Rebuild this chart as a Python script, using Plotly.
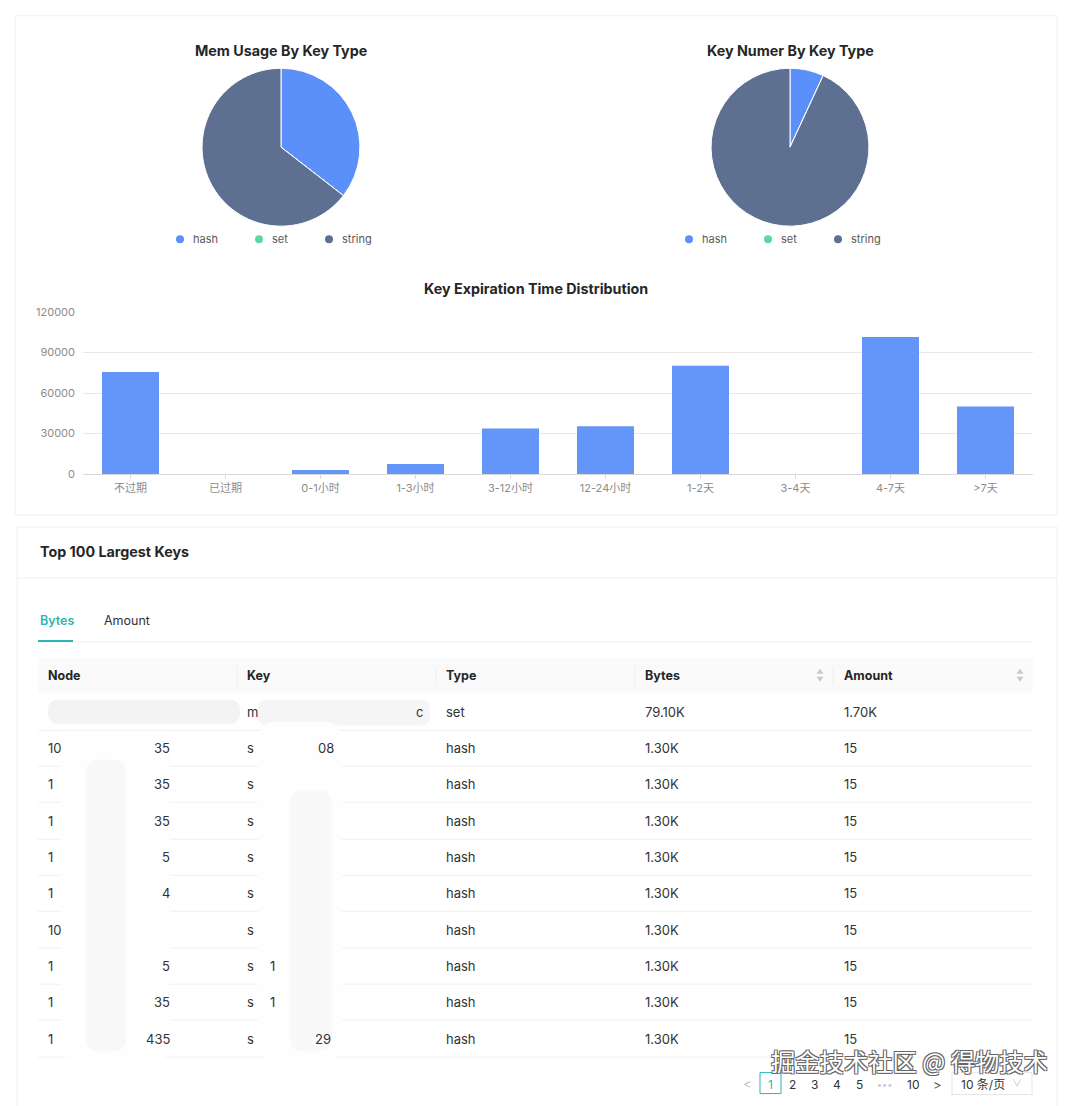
import plotly.graph_objects as go

# Figure placement calibrated against the page: x offset 8px, y offset ~14.7px with ~0.988 vertical scale.
W, H = 1064, 1106
XOFF = 8
YOFF, YS = 14.7, 0.988
FONT = "Inter, Noto Sans CJK SC, sans-serif"

# ---------------- data ----------------
key_types = ["hash", "set", "string"]
type_colors = ["#5B8FF9", "#5AD8A6", "#5D7092"]
mem_usage = [35.5, 0.0, 64.5]
key_number = [6.9, 0.0, 93.1]

exp_categories = ["不过期", "已过期", "0-1小时", "1-3小时", "3-12小时", "12-24小时", "1-2天", "3-4天", "4-7天", ">7天"]
exp_counts = [75600, 0, 3000, 7400, 33700, 35300, 80300, 0, 101600, 50100]
y_ticks = [0, 30000, 60000, 90000, 120000]

table_columns = ["Node", "Key", "Type", "Bytes", "Amount"]
node_head = ["", "10", "1", "1", "1", "1", "10", "1", "1", "1"]
node_tail = ["", "35", "35", "35", "5", "4", "", "5", "35", "435"]
key_head = ["m", "s", "s", "s", "s", "s", "s", "s", "s", "s"]
types = ["set", "hash", "hash", "hash", "hash", "hash", "hash", "hash", "hash", "hash"]
bytes_col = ["79.10K", "1.30K", "1.30K", "1.30K", "1.30K", "1.30K", "1.30K", "1.30K", "1.30K", "1.30K"]
amount_col = ["1.70K", "15", "15", "15", "15", "15", "15", "15", "15", "15"]
tabs = ["Bytes", "Amount"]
pages = ["1", "2", "3", "4", "5", "•••", "10"]


def px(x):
    return (x - XOFF) / W


def py(y):
    return 1 - ((y - YOFF) / YS) / H


fig = go.Figure()
shapes = []
ann = []


def text(x, y, s, size=13, color="#333333", bold=False, xanchor="left", yanchor="middle", weight=None):
    f = dict(family=FONT, size=size, color=color)
    if weight:
        f["weight"] = weight
    ann.append(dict(x=px(x), y=py(y), xref="paper", yref="paper", text=("<b>%s</b>" % s) if bold else s,
                    showarrow=False, xanchor=xanchor, yanchor=yanchor, font=f))


def rect(x0, y0, x1, y1, fill=None, line=None, lw=1, layer="below"):
    shapes.append(dict(type="rect", xref="paper", yref="paper", x0=px(x0), x1=px(x1), y0=py(y1), y1=py(y0),
                       fillcolor=fill or "rgba(0,0,0,0)",
                       line=dict(color=line or "rgba(0,0,0,0)", width=lw if line else 0), layer=layer))


def rrect(x0, y0, x1, y1, r, fill):
    p = ("M {a} {b} L {c} {b} Q {d} {b} {d} {e} L {d} {f} Q {d} {g} {c} {g} L {a} {g} "
         "Q {h} {g} {h} {f} L {h} {e} Q {h} {b} {a} {b} Z").format(
        a=px(x0 + r), b=py(y0), c=px(x1 - r), d=px(x1), e=py(y0 + r), f=py(y1 - r), g=py(y1), h=px(x0))
    shapes.append(dict(type="path", xref="paper", yref="paper", path=p, fillcolor=fill,
                       line=dict(width=0), layer="below"))


def hline(x0, x1, y, color="#f0f0f0", w=1):
    shapes.append(dict(type="line", xref="paper", yref="paper", x0=px(x0), x1=px(x1), y0=py(y), y1=py(y),
                       line=dict(color=color, width=w), layer="below"))


def vline(x, y0, y1, color="#f0f0f0", w=1):
    shapes.append(dict(type="line", xref="paper", yref="paper", x0=px(x), x1=px(x), y0=py(y0), y1=py(y1),
                       line=dict(color=color, width=w), layer="below"))


# cards
rect(15, 15.5, 1057, 515, fill="#ffffff", line="#f0f0f0")
rect(17, 527, 1057, 1112, fill="#ffffff", line="#f0f0f0")

# ---------------- pies ----------------
for cx, vals, title in [(281, mem_usage, "Mem Usage By Key Type"), (790, key_number, "Key Numer By Key Type")]:
    r = 79
    fig.add_trace(go.Pie(labels=key_types, values=vals, sort=False, direction="clockwise", rotation=0,
                         marker=dict(colors=type_colors, line=dict(color="#ffffff", width=1)),
                         textinfo="none", hoverinfo="label+percent", showlegend=False,
                         domain=dict(x=[px(cx - r), px(cx + r)], y=[py(147 + r), py(147 - r)])))
    text(cx, 50, title, size=14.3, color="#262626", bold=True, xanchor="center")
    offs = [-101, -22, 48]
    for i, lab in enumerate(key_types):
        lx = cx + offs[i]
        shapes.append(dict(type="circle", xref="paper", yref="paper", x0=px(lx - 4), x1=px(lx + 4),
                           y0=py(243), y1=py(235), fillcolor=type_colors[i], line=dict(width=0)))
        text(lx + 11, 239, lab, size=11, color="#595959")

# ---------------- bar chart ----------------
fig.add_trace(go.Bar(x=exp_categories, y=exp_counts, marker=dict(color="#6495F9", line=dict(width=0)),
                     xaxis="x", yaxis="y", showlegend=False))
text(536, 288, "Key Expiration Time Distribution", size=14.3, color="#262626", bold=True, xanchor="center")

fig.update_layout(
    xaxis=dict(domain=[px(83), px(1033)], anchor="y", showgrid=False, showline=True, linecolor="#d9d9d9",
               ticks="outside", ticklen=4, tickcolor="#d9d9d9",
               tickfont=dict(family=FONT, size=11, color="#8c8c8c"), fixedrange=True),
    yaxis=dict(domain=[py(474), py(312)], anchor="x", range=[0, 120000], tickvals=y_ticks,
               ticktext=[str(v) for v in y_ticks], showgrid=True, gridcolor="#e8e8e8", zeroline=False,
               showline=False, tickfont=dict(family=FONT, size=11, color="#8c8c8c"), ticklabelstandoff=7,
               fixedrange=True),
    bargap=0.4,
)

# ---------------- table section ----------------
text(38, 552, "Top 100 Largest Keys", size=14.3, color="#262626", bold=True)
hline(17, 1057, 578, color="#f0f0f0")
text(38, 621, tabs[0], size=12.5, color="#2bb5b5", weight=600)
text(102, 621, tabs[1], size=12.5, color="#333333")
hline(38, 1033, 642, color="#f0f0f0")
hline(38, 73, 641, color="#2bb5b5", w=2)

rect(38, 658, 1033, 693, fill="#fafafa")
col_x = [46, 245, 444, 643, 842]
for cx_, name in zip(col_x, table_columns):
    text(cx_, 676, name, size=12.5, color="#262626", bold=True)
for sx in [237, 436, 635, 833]:
    vline(sx, 667, 686, color="#eeeeee")
for sx in [820, 1020]:
    shapes.append(dict(type="path", xref="paper", yref="paper",
                       path="M %f %f L %f %f L %f %f Z" % (px(sx - 3.5), py(674), px(sx + 3.5), py(674), px(sx), py(669)),
                       fillcolor="#c8c8c8", line=dict(width=0)))
    shapes.append(dict(type="path", xref="paper", yref="paper",
                       path="M %f %f L %f %f L %f %f Z" % (px(sx - 3.5), py(677), px(sx + 3.5), py(677), px(sx), py(682)),
                       fillcolor="#c8c8c8", line=dict(width=0)))

row_y = [712, 748, 784, 821, 857, 893, 930, 966, 1002, 1039]
for i, y in enumerate(row_y):
    hline(38, 1033, y + 18.5, color="#f0f0f0")
    if node_head[i]:
        text(46, y, node_head[i])
    if node_tail[i]:
        text(172, y, node_tail[i], xanchor="right")
    text(245, y, key_head[i])
    text(444, y, types[i])
    text(643, y, bytes_col[i])
    text(842, y, amount_col[i])
text(425, 712, "c", xanchor="right")
text(336, 748, "08", xanchor="right")
text(333, 1039, "29", xanchor="right")
text(268, 966, "1")
text(268, 1002, "1")

# smudged (redacted) areas of the screenshot
rrect(48, 700, 240, 724, 10, "rgba(242,242,242,0.9)")
rrect(258, 700, 430, 726, 10, "rgba(244,244,244,0.9)")
rrect(60, 733, 170, 1062, 18, "rgba(254,254,254,1)")
rrect(258, 722, 342, 1062, 18, "rgba(254,254,254,1)")
rrect(86, 760, 126, 1052, 14, "rgba(248,248,248,1)")
rrect(290, 790, 332, 1052, 14, "rgba(249,249,249,1)")

# pagination
text(747, 1084, "<", size=13, color="#c0c0c0", xanchor="center")
shapes.append(dict(type="rect", xref="paper", yref="paper", x0=px(760), x1=px(781), y0=py(1094), y1=py(1073),
                   fillcolor="#ffffff", line=dict(color="#2bb5b5", width=1)))
page_x = [770, 792, 814, 837, 859, 884, 913]
for xx, p in zip(page_x, pages):
    col = "#2bb5b5" if p == "1" else ("#c8c8c8" if p == "•••" else "#333333")
    text(xx, 1084.5, p, size=12 if p != "•••" else 9, color=col, xanchor="center")
text(937, 1085, ">", size=13, color="#555555", xanchor="center")
shapes.append(dict(type="rect", xref="paper", yref="paper", x0=px(952), x1=px(1032), y0=py(1095), y1=py(1073),
                   fillcolor="#ffffff", line=dict(color="#e6e6e6", width=1)))
text(959, 1084.5, "10 条/页", size=12, color="#333333")
text(1017, 1083, "∨", size=10, color="#c8c8c8", xanchor="center")

# watermark
ann.append(dict(x=px(1050), y=py(1060.5), xref="paper", yref="paper", text="掘金技术社区 @ 得物技术", showarrow=False,
                xanchor="right", yanchor="middle",
                font=dict(family="Noto Sans CJK SC", size=24.3, color="#ffffff",
                          shadow="-1px -1px 0 #666, 1px -1px 0 #666, -1px 1px 0 #666, 1px 1px 0 #666")))

fig.update_layout(width=W, height=H, margin=dict(l=0, r=0, t=0, b=0), paper_bgcolor="#ffffff",
                  plot_bgcolor="rgba(0,0,0,0)", shapes=shapes, annotations=ann, showlegend=False,
                  font=dict(family=FONT))

fig.write_html("out.html")
